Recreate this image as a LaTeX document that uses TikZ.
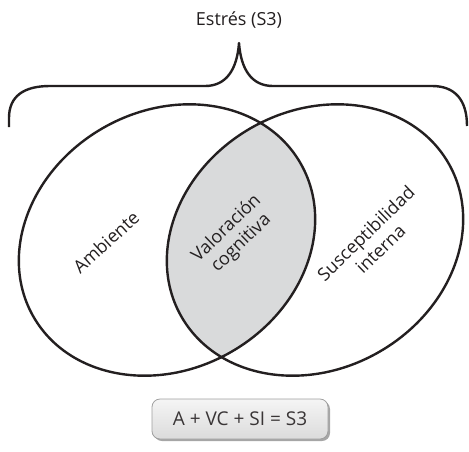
\documentclass[tikz,border=0pt]{standalone}
\usepackage{fontspec}
\setmainfont{Open Sans}
\usetikzlibrary{shadings}
\definecolor{ink}{HTML}{231F20}
\definecolor{lens}{HTML}{D9DADB}
\begin{document}
\begin{tikzpicture}[x=1pt,y=-1pt,
  outline/.style={draw=ink,line width=2.4pt},
  lbl/.style={font=\fontsize{18}{21}\selectfont,text=ink,align=center,inner sep=0pt},
  eqbox/.style={rounded corners=8pt,top color=gray!8,bottom color=gray!28,draw=gray!75,line width=0.8pt,minimum width=176pt,minimum height=40pt,font=\fontsize{19}{22}\selectfont,text=ink!90}]
\useasboundingbox (0,0) rectangle (469,451);
\coordinate (cl) at (167,240);
\coordinate (cr) at (315,240);
% lens fill
\begin{scope}
  \clip[rotate around={30:(cl)}] (cl) ellipse [x radius=154pt, y radius=129pt];
  \fill[lens,rotate around={30:(cr)}] (cr) ellipse [x radius=154pt, y radius=129pt];
\end{scope}
\draw[outline,rotate around={30:(cl)}] (cl) ellipse [x radius=154pt, y radius=129pt];
\draw[outline,rotate around={30:(cr)}] (cr) ellipse [x radius=154pt, y radius=129pt];
% brace
\coordinate (bl) at (9,127);
\coordinate (br) at (467,126);
\coordinate (peak) at (239,43);
\draw[ink,line width=2.4pt,line join=round] (bl) -- (9,118) .. controls (9,96) and (24,86) .. (50,86) -- (205,86)
  .. controls (226,86) and (237,70) .. (peak)
  .. controls (241,70) and (252,86) .. (273,86) -- (432,86)
  .. controls (455,86) and (467,100) .. (br);
\node[lbl] (title) at (239,20) {Estrés (S3)};
\node[lbl,rotate=42] (amb) at (106,242) {Ambiente};
\node[lbl,rotate=44] (vc) at (234,236) {Valoración\\cognitiva};
\node[lbl,rotate=44] (si) at (373,241) {Susceptibilidad\\interna};
% equation box
\fill[gray!70,rounded corners=8pt] (154,401) rectangle (330,441);
\node[eqbox] (eq) at (240,419) {A + VC + SI = S3};
\end{tikzpicture}
\end{document}
